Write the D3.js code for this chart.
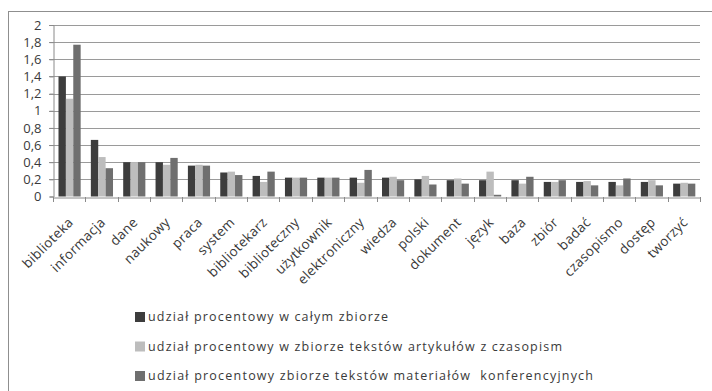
<!DOCTYPE html>
<html>
<head>
<meta charset="utf-8">
<script src="https://cdn.jsdelivr.net/npm/d3@7"></script>
<style>
  html, body { margin: 0; padding: 0; background: #ffffff; }
  svg { display: block; }
  text { font-family: "Open Sans", "DejaVu Sans", sans-serif; fill: #3a3a3a; }
</style>
</head>
<body>
<svg id="chart" width="712" height="391"></svg>
<script>
// Word list (categories) and share of each word in three text collections
const categories = ["biblioteka", "informacja", "dane", "naukowy", "praca", "system",
  "bibliotekarz", "biblioteczny", "użytkownik", "elektroniczny", "wiedza", "polski",
  "dokument", "język", "baza", "zbiór", "badać", "czasopismo", "dostęp", "tworzyć"];

const seriesNames = [
  "udział procentowy w całym zbiorze",
  "udział procentowy w zbiorze tekstów artykułów z czasopism",
  "udział procentowy zbiorze tekstów materiałów  konferencyjnych"
];

const whole      = [1.40, 0.66, 0.40, 0.40, 0.36, 0.28, 0.24, 0.22, 0.22, 0.22, 0.22, 0.20, 0.19, 0.19, 0.19, 0.17, 0.17, 0.17, 0.17, 0.15];
const articles   = [1.14, 0.46, 0.40, 0.37, 0.37, 0.29, 0.17, 0.22, 0.22, 0.16, 0.23, 0.24, 0.21, 0.29, 0.15, 0.17, 0.18, 0.13, 0.19, 0.16];
const conference = [1.77, 0.33, 0.40, 0.45, 0.36, 0.25, 0.29, 0.22, 0.22, 0.31, 0.19, 0.14, 0.15, 0.02, 0.23, 0.19, 0.13, 0.21, 0.13, 0.15];

const yTicks = [0, 0.2, 0.4, 0.6, 0.8, 1, 1.2, 1.4, 1.6, 1.8, 2];
const colors = ["#3d3d3d", "#bdbdbd", "#6f6f6f"];

// legend text run widths (px)
const legendWidths = [240, 414, 445];

const series = [whole, articles, conference];

const svg = d3.select("#chart");

// outer chart frame
svg.append("rect")
  .attr("x", 8.5).attr("y", 11.5)
  .attr("width", 720).attr("height", 400)
  .attr("fill", "none").attr("stroke", "#8f8f8f").attr("stroke-width", 1);

const plot = { left: 53, right: 700, top: 25, bottom: 196.5 };

const x0 = d3.scaleBand().domain(categories).range([plot.left, plot.right]);
const x1 = d3.scaleBand().domain(d3.range(series.length))
  .range([x0.bandwidth() * 0.17, x0.bandwidth() * 0.855]);
const y = d3.scaleLinear().domain([0, 2]).range([plot.bottom, plot.top]);

const fmt = d => d3.format("~g")(d).replace(".", ",");

// gridlines
svg.append("g")
  .selectAll("line")
  .data(yTicks.filter(t => t > 0))
  .join("line")
  .attr("x1", plot.left - 4).attr("x2", plot.right)
  .attr("y1", d => Math.round(y(d)) + 0.5).attr("y2", d => Math.round(y(d)) + 0.5)
  .attr("stroke", "#9a9a9a").attr("stroke-width", 1);

// y axis
const yAxis = d3.axisLeft(y).tickValues(yTicks).tickSize(4).tickFormat(fmt);
const gy = svg.append("g")
  .attr("transform", `translate(${plot.left + 0.5},0)`)
  .call(yAxis);
gy.select(".domain").attr("stroke", "#8a8a8a");
gy.selectAll(".tick line").attr("stroke", "#8a8a8a");
gy.selectAll(".tick text")
  .attr("x", -12)
  .style("font-size", "13px")
  .style("font-family", "\"Open Sans\", sans-serif")
  .attr("fill", "#3a3a3a");

// bars
const groups = svg.append("g")
  .selectAll("g")
  .data(categories)
  .join("g")
  .attr("transform", d => `translate(${x0(d)},0)`);

groups.selectAll("rect")
  .data((d, i) => series.map((s, k) => ({ k, v: s[i] })))
  .join("rect")
  .attr("x", d => x1(d.k))
  .attr("width", x1.bandwidth())
  .attr("y", d => y(d.v))
  .attr("height", d => y(0) - y(d.v))
  .attr("fill", d => colors[d.k]);

// x axis
const xAxis = d3.axisBottom(x0).tickSize(0).tickFormat(d => d);
const gx = svg.append("g")
  .attr("transform", `translate(0,${Math.round(plot.bottom) + 0.5})`)
  .call(xAxis);
gx.select(".domain").attr("stroke", "#8a8a8a");
gx.selectAll(".tick text")
  .style("font-size", "13.5px")
  .style("letter-spacing", "0.3px")
  .attr("fill", "#3a3a3a")
  .attr("text-anchor", "end")
  .attr("transform", "translate(-1,20) rotate(-45)")
  .attr("dy", "0.6em")
  .attr("y", 0).attr("x", 0);

// category boundary ticks
svg.append("g")
  .selectAll("line")
  .data(categories.map(c => x0(c)).concat([plot.right]))
  .join("line")
  .attr("x1", d => Math.round(d) + 0.5).attr("x2", d => Math.round(d) + 0.5)
  .attr("y1", Math.round(plot.bottom)).attr("y2", Math.round(plot.bottom) + 5)
  .attr("stroke", "#8a8a8a");

// legend
const legend = svg.append("g")
  .selectAll("g")
  .data(seriesNames)
  .join("g")
  .attr("transform", (d, i) => `translate(135,${317 + i * 29.5})`);

legend.append("rect")
  .attr("x", 0).attr("y", -5)
  .attr("width", 10).attr("height", 10)
  .attr("fill", (d, i) => colors[i]);

legend.append("text")
  .attr("x", 13).attr("y", 0)
  .attr("dy", "0.35em")
  .style("font-size", "12.5px")
  .style("white-space", "pre")
  .attr("textLength", (d, i) => legendWidths[i])
  .attr("lengthAdjust", "spacing")
  .text(d => d);
</script>
</body>
</html>
